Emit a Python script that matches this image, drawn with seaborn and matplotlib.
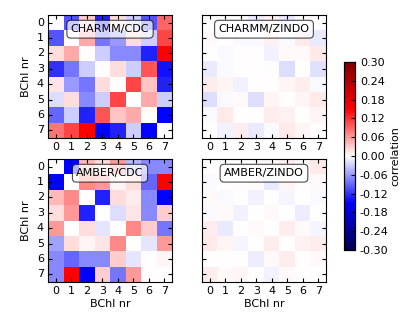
import numpy as np
import pandas as pd
import matplotlib
matplotlib.use('Agg')
import matplotlib.pyplot as plt
import seaborn as sns

labels = [0, 1, 2, 3, 4, 5, 6, 7]

charmm_cdc = [
    [0.00, -0.10, 0.03, -0.13, 0.02, -0.03, -0.10, 0.09],
    [-0.10, 0.00, 0.05, -0.08, -0.06, 0.02, -0.03, 0.11],
    [0.02, 0.05, 0.00, -0.03, -0.07, -0.07, -0.13, 0.15],
    [-0.12, -0.08, -0.03, 0.00, 0.02, -0.03, 0.10, -0.14],
    [0.015, -0.06, -0.08, 0.02, 0.00, 0.11, 0.035, -0.13],
    [-0.02, 0.02, -0.07, -0.03, 0.11, 0.00, 0.05, -0.03],
    [-0.09, -0.03, -0.13, 0.10, 0.035, 0.05, 0.00, -0.15],
    [0.08, 0.11, 0.15, -0.15, -0.13, -0.03, -0.15, 0.00],
]

charmm_zindo = [
    [0.000, 0.000, 0.000, -0.010, 0.008, -0.012, 0.000, 0.000],
    [0.004, 0.000, -0.004, -0.004, 0.008, -0.004, 0.012, -0.012],
    [0.000, -0.004, 0.000, 0.000, -0.008, 0.004, 0.004, 0.012],
    [-0.012, -0.004, 0.000, 0.000, -0.002, -0.020, 0.000, -0.018],
    [0.010, 0.006, -0.008, 0.000, 0.000, 0.006, 0.010, -0.004],
    [-0.020, -0.004, 0.004, -0.020, 0.006, 0.000, 0.006, 0.014],
    [-0.004, 0.014, 0.000, 0.000, 0.010, 0.008, 0.000, 0.006],
    [0.000, -0.008, 0.010, -0.014, -0.004, 0.014, 0.006, 0.000],
]

amber_cdc = [
    [0.00, -0.15, 0.04, 0.02, 0.06, -0.04, -0.07, -0.07],
    [-0.15, 0.00, 0.07, 0.06, 0.005, 0.02, -0.09, 0.15],
    [0.04, 0.07, 0.00, -0.13, 0.02, 0.01, -0.07, -0.15],
    [0.02, 0.06, -0.13, 0.00, -0.02, 0.015, -0.07, 0.03],
    [0.06, 0.00, 0.02, -0.015, 0.00, 0.07, 0.03, -0.08],
    [-0.055, 0.02, 0.005, 0.015, 0.07, 0.00, -0.015, 0.06],
    [-0.07, -0.09, -0.07, -0.07, 0.03, -0.015, 0.00, 0.005],
    [-0.07, 0.15, -0.15, 0.03, -0.08, 0.06, 0.00, 0.00],
]

amber_zindo = [
    [0.000, -0.002, 0.000, 0.002, 0.004, 0.008, 0.000, 0.012],
    [-0.004, 0.000, -0.002, 0.004, -0.012, 0.006, 0.000, 0.004],
    [0.004, -0.004, 0.000, -0.008, 0.000, -0.006, 0.002, -0.004],
    [-0.004, 0.004, -0.008, 0.000, 0.004, 0.000, -0.010, 0.000],
    [0.010, -0.014, 0.000, 0.004, 0.000, 0.010, 0.004, -0.006],
    [0.014, 0.006, -0.006, 0.000, 0.010, 0.000, 0.008, 0.010],
    [0.000, 0.000, 0.000, -0.010, 0.004, 0.010, 0.000, 0.004],
    [0.010, 0.004, 0.006, 0.000, -0.008, 0.004, 0.000, 0.000],
]

panels = [
    ("CHARMM/CDC", charmm_cdc),
    ("CHARMM/ZINDO", charmm_zindo),
    ("AMBER/CDC", amber_cdc),
    ("AMBER/ZINDO", amber_zindo),
]

cbar_ticks = [-0.30, -0.24, -0.18, -0.12, -0.06, 0.00, 0.06, 0.12, 0.18, 0.24, 0.30]

plt.rcParams['font.family'] = ['DejaVu Sans']
fig = plt.figure(figsize=(4.15, 3.12), dpi=100)

positions = [
    [0.1157, 0.5577, 0.2988, 0.394],
    [0.4867, 0.5577, 0.2988, 0.394],
    [0.1157, 0.0962, 0.2988, 0.394],
    [0.4867, 0.0962, 0.2988, 0.394],
]
cax = fig.add_axes([0.829, 0.1987, 0.0265, 0.6026])

for i, (name, mat) in enumerate(panels):
    ax = fig.add_axes(positions[i])
    df = pd.DataFrame(mat, index=labels, columns=labels)
    sns.heatmap(df, ax=ax, cmap='seismic', vmin=-0.3, vmax=0.3,
                xticklabels=1, yticklabels=1,
                cbar=(i == 0), cbar_ax=cax if i == 0 else None,
                cbar_kws={'ticks': cbar_ticks, 'format': '%.2f'})
    for sp in ax.spines.values():
        sp.set_visible(True)
        sp.set_color('black')
        sp.set_linewidth(0.8)
    ax.tick_params(direction='in', top=True, right=True, length=3,
                   labelsize=8, pad=3, labelrotation=0)
    if i % 2 == 1:
        ax.set_yticklabels([])
    else:
        ax.set_ylabel('BChl nr', fontsize=8)
    if i >= 2:
        ax.set_xlabel('BChl nr', fontsize=8, labelpad=2)
    ax.text(0.5, 0.885, name, transform=ax.transAxes, ha='center', va='center',
            fontsize=8,
            bbox=dict(boxstyle='round,pad=0.35', facecolor='white', alpha=0.7,
                      edgecolor='black', linewidth=0.8))

cax.tick_params(labelsize=8, direction='in', length=3)
cax.set_ylabel('correlation', fontsize=8, labelpad=1)
for sp in cax.spines.values():
    sp.set_visible(True)
    sp.set_linewidth(0.8)

fig.savefig('out.png', dpi=100)
